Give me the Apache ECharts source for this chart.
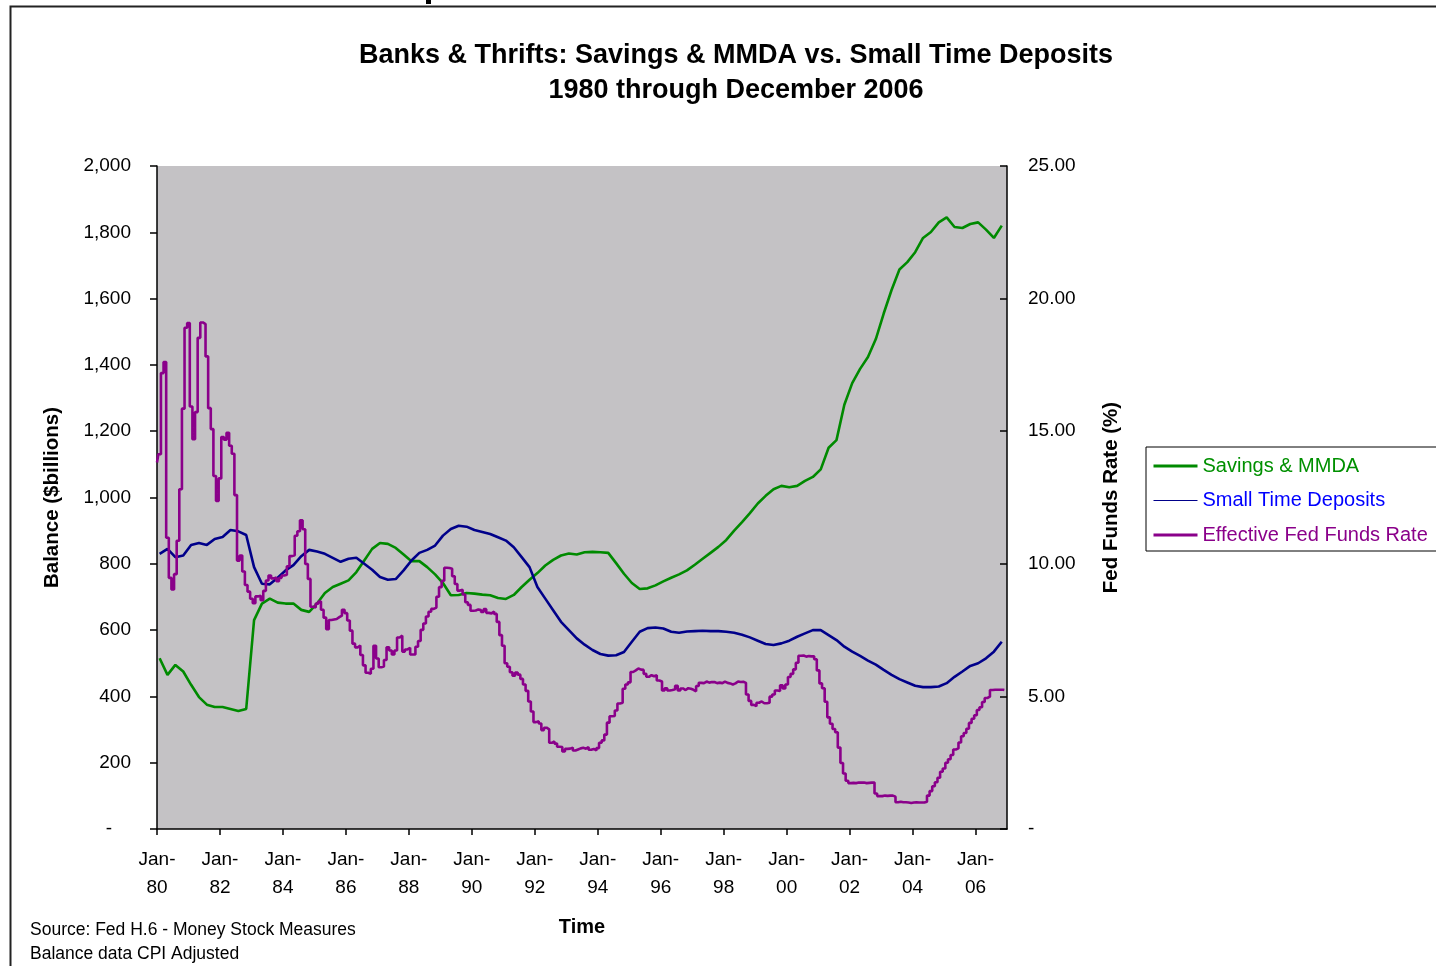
<!DOCTYPE html>
<html>
<head>
<meta charset="utf-8">
<script src="https://cdn.jsdelivr.net/npm/echarts@6/dist/echarts.min.js"></script>
<style>
html,body{margin:0;padding:0;background:#fff;}
#chart{width:1436px;height:966px;}
</style>
</head>
<body>
<div id="chart"></div>
<script>
// Month index 0 = Jan 1980
const tickYears = ['80','82','84','86','88','90','92','94','96','98','00','02','04','06'];

// Savings & MMDA, quarterly ($billions, CPI adjusted), Q1 1980 .. Q4 2006
const savingsMMDA = [
 515,465,495,475, 435,398,375,368, 368,362,356,362,
 630,680,695,683, 680,680,661,655, 680,712,730,740,
 750,775,810,845, 863,860,848,828, 808,808,790,768,
 742,705,706,712, 710,707,705,697, 694,706,730,752,
 772,795,812,825, 831,828,835,836, 835,833,802,770,
 742,724,726,735, 747,758,768,780, 797,815,833,851,
 872,900,926,953, 982,1005,1025,1035, 1031,1035,1050,1062,
 1085,1150,1173,1280, 1345,1388,1424,1478, 1555,1626,1688,1710,
 1740,1783,1801,1830, 1845,1816,1813,1825, 1830,1808,1783,1820
];

// Small Time Deposits, quarterly ($billions, CPI adjusted)
const smallTimeDeposits = [
 830,845,820,825, 857,863,857,875, 881,902,898,887,
 790,740,738,758, 780,796,823,842, 837,830,818,806,
 815,818,800,782, 760,752,754,780, 810,833,842,855,
 885,905,915,912, 902,896,890,880, 870,850,820,790,
 730,695,660,625, 600,575,556,540, 528,523,524,534,
 565,595,606,608, 605,595,592,596, 597,598,597,597,
 595,592,586,578, 568,558,555,560, 568,580,590,600,
 600,585,570,550, 535,522,508,496, 480,465,452,442,
 432,428,428,430, 440,459,475,492, 500,515,535,565
];

// Effective Fed Funds Rate, monthly (%), Jan 1980 .. Dec 2006
const fedFundsRate = [
 13.82,14.13,17.19,17.61,10.98,9.47,9.03,9.61,10.87,12.81,15.85,18.90,
 19.08,15.93,14.70,15.72,18.52,19.10,19.04,17.82,15.87,15.08,13.31,12.37,
 13.22,14.78,14.68,14.94,14.45,14.15,12.59,10.12,10.31,9.71,9.20,8.95,
 8.68,8.51,8.77,8.80,8.63,8.98,9.37,9.56,9.45,9.48,9.34,9.47,
 9.56,9.59,9.91,10.29,10.32,11.06,11.23,11.64,11.30,9.99,9.43,8.38,
 8.35,8.50,8.58,8.27,7.97,7.53,7.88,7.90,7.92,7.99,8.05,8.27,
 8.14,7.86,7.48,6.99,6.85,6.92,6.56,6.17,5.89,5.85,6.04,6.91,
 6.43,6.10,6.13,6.37,6.85,6.73,6.58,6.73,7.22,7.29,6.69,6.77,
 6.83,6.58,6.58,6.87,7.09,7.51,7.75,8.01,8.19,8.30,8.35,8.76,
 9.12,9.36,9.85,9.84,9.81,9.53,9.24,8.99,9.02,8.84,8.55,8.45,
 8.23,8.24,8.28,8.26,8.18,8.29,8.15,8.13,8.20,8.11,7.81,7.31,
 6.91,6.25,6.12,5.91,5.78,5.90,5.82,5.66,5.45,5.21,4.81,4.43,
 4.03,4.06,3.98,3.73,3.82,3.76,3.25,3.30,3.22,3.10,3.09,2.92,
 3.02,3.03,3.07,2.96,3.00,3.04,3.06,3.03,3.09,2.99,3.02,2.96,
 3.05,3.25,3.34,3.56,4.01,4.25,4.26,4.47,4.73,4.76,5.29,5.45,
 5.53,5.92,5.98,6.05,6.01,6.00,5.85,5.74,5.80,5.76,5.80,5.60,
 5.56,5.22,5.31,5.22,5.24,5.27,5.40,5.22,5.30,5.24,5.31,5.29,
 5.25,5.19,5.39,5.51,5.50,5.56,5.52,5.54,5.54,5.50,5.52,5.50,
 5.56,5.51,5.49,5.45,5.49,5.56,5.54,5.55,5.51,5.07,4.83,4.68,
 4.63,4.76,4.81,4.74,4.74,4.76,4.99,5.07,5.22,5.20,5.42,5.30,
 5.45,5.73,5.85,6.02,6.27,6.53,6.54,6.50,6.52,6.51,6.51,6.40,
 5.98,5.49,5.31,4.80,4.21,3.97,3.77,3.65,3.07,2.49,2.09,1.82,
 1.73,1.74,1.73,1.75,1.75,1.75,1.73,1.74,1.75,1.75,1.34,1.24,
 1.24,1.26,1.25,1.26,1.26,1.22,1.01,1.03,1.01,1.01,1.00,0.98,
 1.00,1.01,1.00,1.00,1.00,1.03,1.26,1.43,1.61,1.76,1.93,2.16,
 2.28,2.50,2.63,2.79,3.00,3.04,3.26,3.50,3.62,3.78,4.00,4.16,
 4.29,4.49,4.59,4.79,4.94,4.99,5.24,5.25,5.25,5.25,5.25,5.24
];

const seriesNames = ['Savings & MMDA', 'Small Time Deposits', 'Effective Fed Funds Rate'];
const seriesColors = ['#008a00', '#00008a', '#8a008a'];
const legendTextColors = ['#009000', '#0000ff', '#8a008a'];

const FONT = 'Liberation Sans, Arial, sans-serif';

// quarterly values plotted at the middle month of each quarter
const toQuarterPoints = arr => arr.map((v, i) => [i * 3 + 1, v]);
const toMonthPoints = arr => arr.map((v, i) => [i, v]);

const chart = echarts.init(document.getElementById('chart'), null, {renderer: 'canvas'});

const option = {
  backgroundColor: '#ffffff',
  animation: false,
  title: {
    text: 'Banks & Thrifts: Savings & MMDA vs. Small Time Deposits\n1980 through December 2006',
    left: 731,
    top: 33,
    textAlign: 'center',
    textStyle: {fontFamily: FONT, fontSize: 27, fontWeight: 'bold', color: '#000', lineHeight: 35}
  },
  legend: {
    orient: 'vertical',
    left: 1146,
    top: 447,
    itemWidth: 44,
    itemHeight: 14,
    itemGap: 14.5,
    padding: [9, 40, 6, 6],
    borderColor: '#000',
    borderWidth: 1,
    backgroundColor: '#fff',
    itemStyle: {opacity: 0},
    textStyle: {fontFamily: FONT, fontSize: 20},
    data: [
      {name: seriesNames[0], textStyle: {color: legendTextColors[0]}, lineStyle: {width: 3}},
      {name: seriesNames[1], textStyle: {color: legendTextColors[1]}, lineStyle: {width: 1}},
      {name: seriesNames[2], textStyle: {color: legendTextColors[2]}, lineStyle: {width: 3}}
    ]
  },
  grid: {
    left: 157, right: 429, top: 166, bottom: 137,
    show: true, backgroundColor: '#c4c2c5', borderWidth: 0
  },
  xAxis: {
    type: 'value',
    min: 0, max: 324, interval: 24,
    name: 'Time',
    nameLocation: 'middle',
    nameGap: 88,
    nameTextStyle: {fontFamily: FONT, fontSize: 20, fontWeight: 'bold', color: '#000'},
    axisLine: {show: true, onZero: false, lineStyle: {color: '#000', width: 1.5}},
    axisTick: {show: true, length: 6, lineStyle: {color: '#000', width: 1.5}},
    splitLine: {show: false},
    axisLabel: {
      margin: 17,
      fontFamily: FONT, fontSize: 19, color: '#000', lineHeight: 28,
      showMaxLabel: false,
      formatter: v => (v % 24 === 0 && v < 324) ? 'Jan-\n' + tickYears[v / 24] : ''
    }
  },
  yAxis: [
    {
      type: 'value', min: 0, max: 2000, interval: 200,
      name: 'Balance ($billions)',
      nameLocation: 'middle', nameRotate: 90, nameGap: 94,
      nameTextStyle: {fontFamily: FONT, fontSize: 20.5, fontWeight: 'bold', color: '#000'},
      axisLine: {show: true, lineStyle: {color: '#000', width: 1.5}},
      axisTick: {show: true, length: 7, lineStyle: {color: '#000', width: 1.5}},
      splitLine: {show: false},
      axisLabel: {
        margin: 26, fontFamily: FONT, fontSize: 19, color: '#000',
        formatter: v => v === 0 ? '-\u2003' : v.toLocaleString('en-US')
      }
    },
    {
      type: 'value', min: 0, max: 25, interval: 5,
      position: 'right',
      name: 'Fed Funds Rate (%)',
      nameLocation: 'middle', nameRotate: 90, nameGap: 94,
      nameTextStyle: {fontFamily: FONT, fontSize: 20.5, fontWeight: 'bold', color: '#000'},
      axisLine: {show: true, lineStyle: {color: '#000', width: 1.5}},
      axisTick: {show: true, inside: true, length: 7, lineStyle: {color: '#000', width: 1.5}},
      splitLine: {show: false},
      axisLabel: {
        margin: 21, fontFamily: FONT, fontSize: 19, color: '#000',
        formatter: v => v === 0 ? '-' : v.toFixed(2)
      }
    }
  ],
  series: [
    {
      name: seriesNames[0], type: 'line', yAxisIndex: 0,
      data: toQuarterPoints(savingsMMDA),
      showSymbol: false, symbol: 'none',
      lineStyle: {color: seriesColors[0], width: 2.6},
      itemStyle: {color: seriesColors[0]}
    },
    {
      name: seriesNames[1], type: 'line', yAxisIndex: 0,
      data: toQuarterPoints(smallTimeDeposits),
      showSymbol: false, symbol: 'none',
      lineStyle: {color: seriesColors[1], width: 2.6},
      itemStyle: {color: seriesColors[1]}
    },
    {
      name: seriesNames[2], type: 'line', yAxisIndex: 1,
      data: toMonthPoints(fedFundsRate),
      step: 'middle',
      showSymbol: false, symbol: 'none',
      lineStyle: {color: seriesColors[2], width: 2.6},
      itemStyle: {color: seriesColors[2]}
    }
  ],
  graphic: [
    {type: 'rect', left: 8, top: 4, silent: true,
     shape: {width: 1500, height: 1000},
     style: {fill: 'none', stroke: '#222', lineWidth: 2}},
    {type: 'rect', left: 426, top: 0, silent: true,
     shape: {width: 5, height: 4}, style: {fill: '#000'}},
    {type: 'text', left: 30, top: 921,
     style: {text: 'Source: Fed H.6 - Money Stock Measures', fill: '#000', font: '17.5px ' + FONT}},
    {type: 'text', left: 30, top: 945,
     style: {text: 'Balance data CPI Adjusted', fill: '#000', font: '17.5px ' + FONT}}
  ]
};

chart.setOption(option);
</script>
</body>
</html>
